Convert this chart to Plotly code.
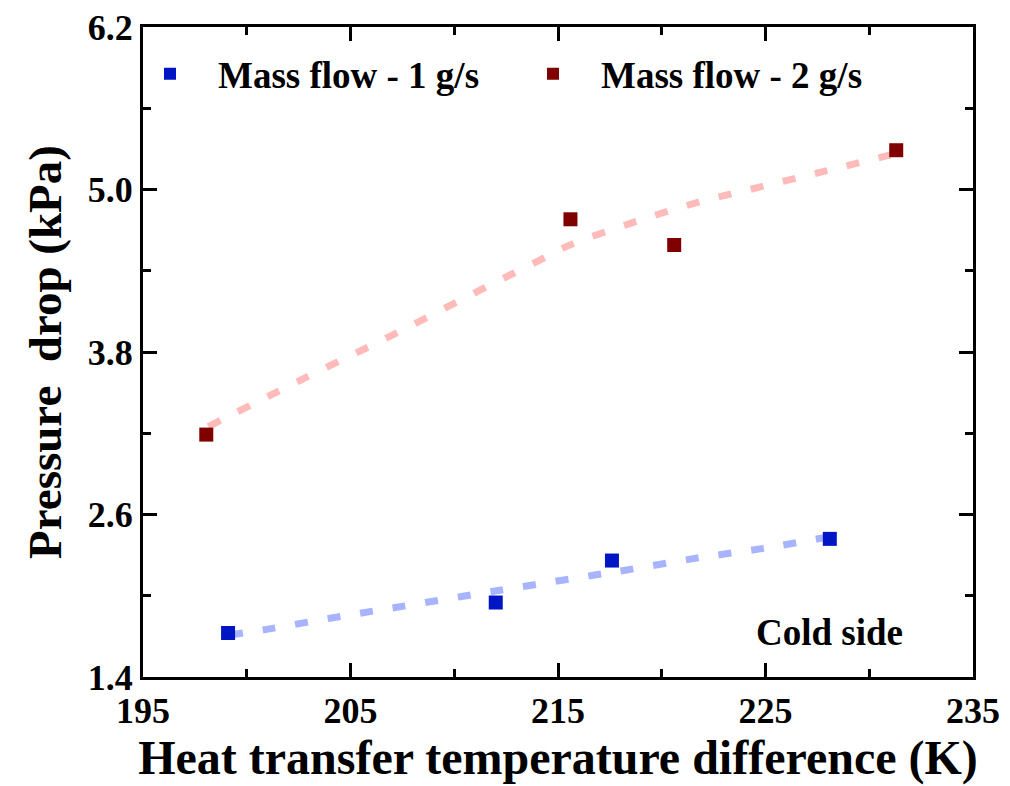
import plotly.graph_objects as go

# measured points
x1 = [199.1, 212.0, 217.6, 228.1]
y1 = [1.725, 1.95, 2.26, 2.42]
x2 = [198.05, 215.6, 220.6, 231.3]
y2 = [3.19, 4.78, 4.59, 5.29]

# fitted trend curves
fit1_x = [199.19, 200.96, 204.01, 207.23, 212.05, 216.70, 218.31, 221.52, 224.89, 227.95]
fit1_y = [1.710, 1.752, 1.834, 1.915, 2.037, 2.151, 2.190, 2.274, 2.350, 2.432]
fit2_x = [198.15, 202.60, 207.04, 211.26, 214.14, 215.59, 218.59, 221.69, 224.80, 227.91, 231.02]
fit2_y = [3.249, 3.593, 3.926, 4.258, 4.480, 4.591, 4.755, 4.903, 5.021, 5.137, 5.255]

xticks = [195, 205, 215, 225, 235]
yticks = [1.4, 2.6, 3.8, 5.0, 6.2]
yticktext = ["1.4", "2.6", "3.8", "5.0", "6.2"]

blue = "#0016c4"
red = "#800000"
font = "Liberation Serif"

fig = go.Figure()
fig.add_trace(go.Scatter(x=fit2_x, y=fit2_y, mode="lines", showlegend=False, hoverinfo="skip",
                         line=dict(color="#ffbaba", width=7, dash="13px,20px", shape="spline")))
fig.add_trace(go.Scatter(x=fit1_x, y=fit1_y, mode="lines", showlegend=False, hoverinfo="skip",
                         line=dict(color="#a8b4ff", width=7, dash="13px,20px", shape="spline")))
fig.add_trace(go.Scatter(x=x1, y=y1, mode="markers", name="<b>Mass flow - 1 g/s</b>", legend="legend",
                         marker=dict(symbol="square", size=14, color=blue)))
fig.add_trace(go.Scatter(x=x2, y=y2, mode="markers", name="<b>Mass flow - 2 g/s</b>", legend="legend2",
                         marker=dict(symbol="square", size=14, color=red)))

axis_common = dict(showline=True, linecolor="black", linewidth=3, mirror="ticks",
                   ticks="inside", tickwidth=3, ticklen=14, tickcolor="black",
                   showgrid=False, zeroline=False, automargin=False,
                   tickfont=dict(family=font, size=36, color="black", weight="bold"))

fig.update_xaxes(range=[195, 235], tickvals=xticks, ticktext=[f"<b>{v}</b>" for v in xticks],
                 minor=dict(dtick=5, tick0=195, ticks="inside", ticklen=8, tickwidth=3, tickcolor="black"),
                 ticklabelstandoff=0,
                 title=dict(text="<b>Heat transfer temperature difference (K)</b>",
                            font=dict(family=font, size=48, color="black"), standoff=10),
                 **axis_common)
fig.update_yaxes(range=[1.4, 6.2], tickvals=yticks, ticktext=[f"<b>{t}</b>" for t in yticktext],
                 minor=dict(dtick=0.6, tick0=1.4, ticks="inside", ticklen=8, tickwidth=3, tickcolor="black"),
                 ticklabelstandoff=0,
                 title=dict(text="<b>Pressure  drop (kPa)</b>",
                            font=dict(family=font, size=47, color="black"), standoff=12),
                 **axis_common)

fig.add_annotation(x=(829 - 143) / 830, y=(677 - 632) / 650, xref="x domain", yref="y domain",
                   text="<b>Cold side</b>", showarrow=False, xanchor="center", yanchor="middle",
                   font=dict(family=font, size=37, color="black"))

leg_common = dict(orientation="h", xanchor="left", yanchor="top",
                  font=dict(family=font, size=37, color="black"),
                  bgcolor="rgba(0,0,0,0)", itemwidth=86, itemsizing="constant")

fig.update_layout(
    width=1010, height=786,
    margin=dict(l=143, r=37, t=27, b=109),
    plot_bgcolor="white", paper_bgcolor="white",
    legend=dict(x=(122 - 143) / 830, y=0.975, **leg_common),
    legend2=dict(x=(505 - 143) / 830, y=0.975, **leg_common),
)

fig.write_html("out.html")
